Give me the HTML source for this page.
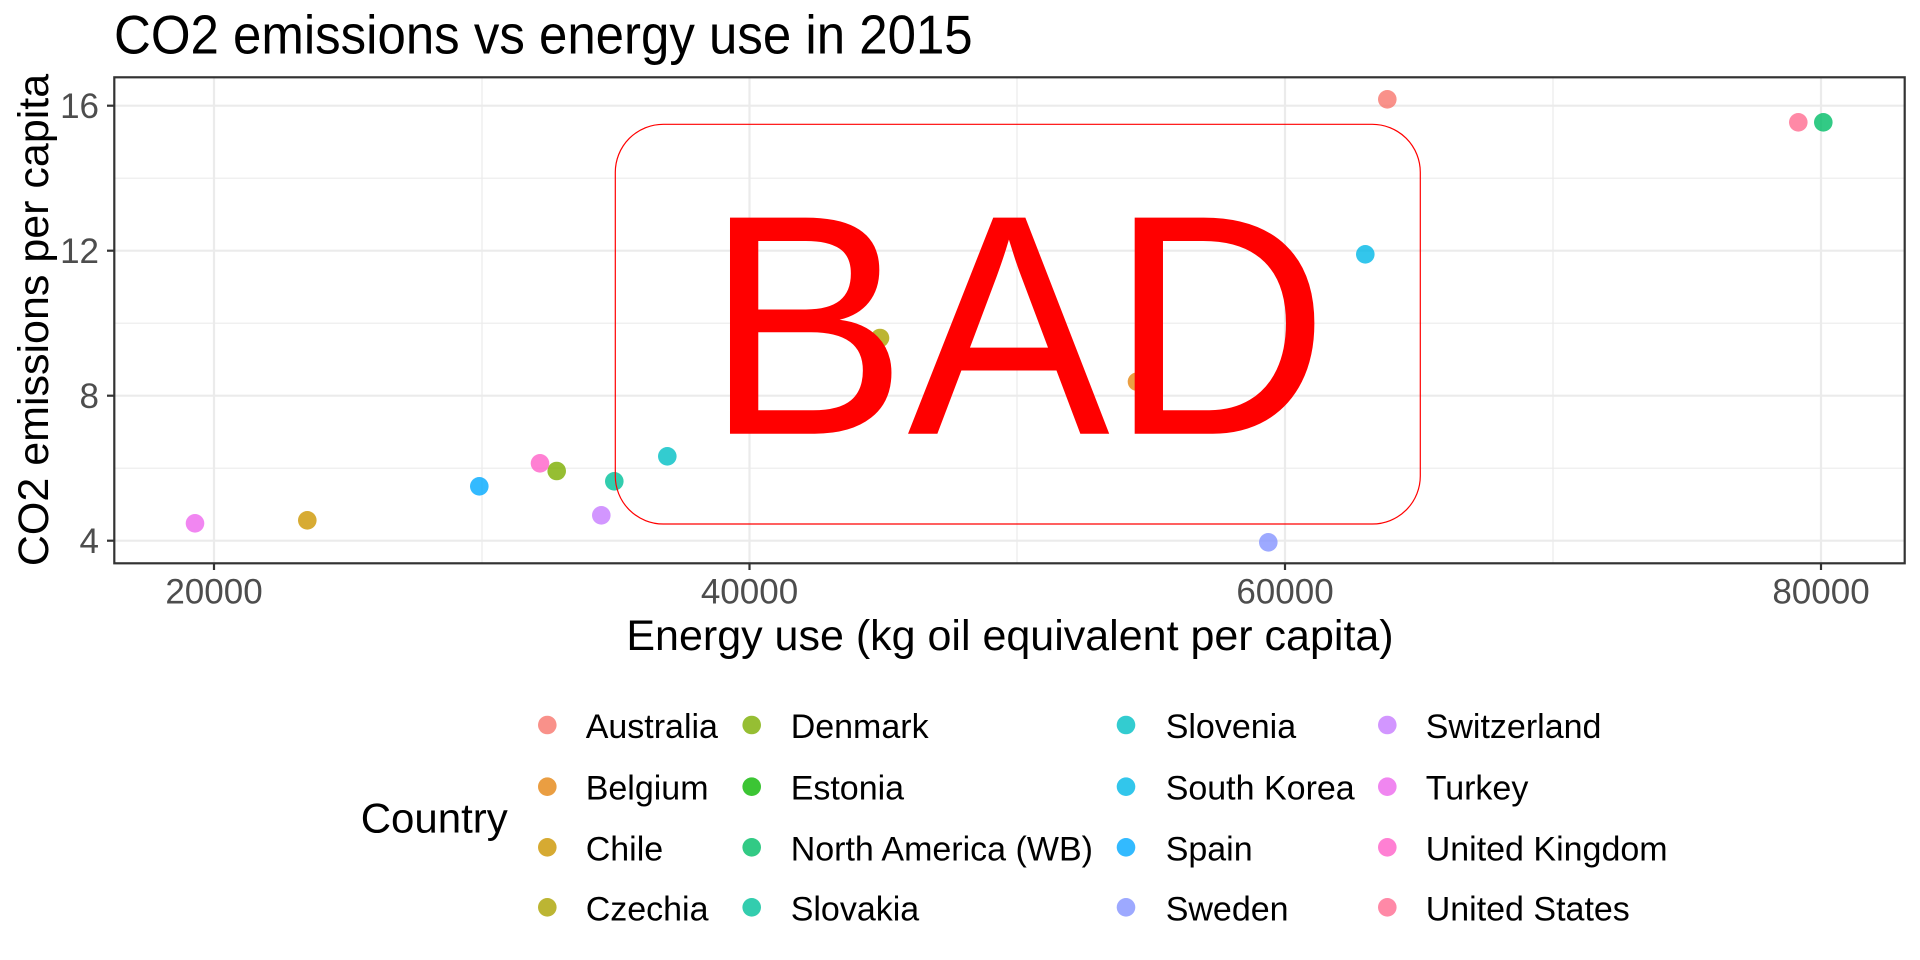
<!DOCTYPE html>
<html><head><meta charset="utf-8"><style>html,body{margin:0;padding:0;background:#fff}svg{display:block}text{font-family:"Liberation Sans",Arial,sans-serif}</style></head>
<body>
<svg width="1920" height="960" viewBox="0 0 1920 960" xmlns="http://www.w3.org/2000/svg">
<rect width="1920" height="960" fill="#fff"/>
<g stroke="#ebebeb" stroke-width="1.2">
<line x1="114" x2="1905" y1="178.2" y2="178.2"/><line x1="114" x2="1905" y1="323.2" y2="323.2"/><line x1="114" x2="1905" y1="468.2" y2="468.2"/>
<line x1="482" x2="482" y1="77" y2="563"/><line x1="1017" x2="1017" y1="77" y2="563"/><line x1="1553" x2="1553" y1="77" y2="563"/>
</g>
<g stroke="#ebebeb" stroke-width="2.2">
<line x1="114" x2="1905" y1="105.7" y2="105.7"/><line x1="114" x2="1905" y1="250.7" y2="250.7"/><line x1="114" x2="1905" y1="395.7" y2="395.7"/><line x1="114" x2="1905" y1="540.7" y2="540.7"/>
<line x1="214" x2="214" y1="77" y2="563"/><line x1="749.5" x2="749.5" y1="77" y2="563"/><line x1="1285" x2="1285" y1="77" y2="563"/><line x1="1821" x2="1821" y1="77" y2="563"/>
</g>
<g opacity="0.8">
<circle cx="1387.3" cy="99.3" r="9.3" fill="#F8766D"/>
<circle cx="1137" cy="381.7" r="9.3" fill="#E68613"/>
<circle cx="307.3" cy="520.3" r="9.3" fill="#CD9600"/>
<circle cx="880" cy="338" r="9.3" fill="#ABA300"/>
<circle cx="556.7" cy="471" r="9.3" fill="#7CAE00"/>
<circle cx="1823.3" cy="122.3" r="9.3" fill="#00BE67"/>
<circle cx="614.3" cy="481.3" r="9.3" fill="#00C19A"/>
<circle cx="667.3" cy="456.3" r="9.3" fill="#00BFC4"/>
<circle cx="1365.3" cy="254.3" r="9.3" fill="#00B8E7"/>
<circle cx="479.3" cy="486.3" r="9.3" fill="#00A9FF"/>
<circle cx="1268.3" cy="542.3" r="9.3" fill="#8494FF"/>
<circle cx="601.3" cy="515.3" r="9.3" fill="#C77CFF"/>
<circle cx="195" cy="523.3" r="9.3" fill="#ED68ED"/>
<circle cx="540" cy="463.3" r="9.3" fill="#FF61C9"/>
<circle cx="1798.3" cy="122.3" r="9.3" fill="#FF6C91"/>
</g>
<rect x="615.3" y="124.3" width="805" height="399.7" rx="48" ry="48" fill="none" stroke="#ff0000" stroke-width="1.2"/>
<text transform="translate(1017,433.7) scale(0.985,1.02)" font-size="308" fill="#ff0000" text-anchor="middle">BAD</text>
<rect x="114.3" y="77.3" width="1790.4" height="486" fill="none" stroke="#333" stroke-width="2.2"/>
<g stroke="#333" stroke-width="2.2">
<line x1="107" x2="114" y1="105.7" y2="105.7"/><line x1="107" x2="114" y1="250.7" y2="250.7"/><line x1="107" x2="114" y1="395.7" y2="395.7"/><line x1="107" x2="114" y1="540.7" y2="540.7"/>
<line x1="214" x2="214" y1="563" y2="570"/><line x1="749.5" x2="749.5" y1="563" y2="570"/><line x1="1285" x2="1285" y1="563" y2="570"/><line x1="1821" x2="1821" y1="563" y2="570"/>
</g>
<g fill="#4d4d4d" font-size="35" text-anchor="end">
<text x="99" y="118.2">16</text>
<text x="99" y="263.2">12</text>
<text x="99" y="408.2">8</text>
<text x="99" y="553.2">4</text>
</g>
<g fill="#4d4d4d" font-size="35" text-anchor="middle">
<text x="214" y="603.3">20000</text>
<text x="749.5" y="603.3">40000</text>
<text x="1285" y="603.3">60000</text>
<text x="1821" y="603.3">80000</text>
</g>
<text x="1010" y="650" font-size="43" text-anchor="middle" fill="#000">Energy use (kg oil equivalent per capita)</text>
<text transform="translate(48,320) rotate(-90)" font-size="43" text-anchor="middle" fill="#000">CO2 emissions per capita</text>
<text transform="translate(114,53.3) scale(1,1.08)" font-size="51" fill="#000">CO2 emissions vs energy use in 2015</text>
<text x="360.7" y="832.3" font-size="42" fill="#000">Country</text>
<g opacity="0.8">
<circle cx="547.3" cy="725" r="9.3" fill="#F8766D"/><circle cx="547.3" cy="786.7" r="9.3" fill="#E68613"/><circle cx="547.3" cy="847.3" r="9.3" fill="#CD9600"/><circle cx="547.3" cy="907.3" r="9.3" fill="#ABA300"/>
<circle cx="751.7" cy="725" r="9.3" fill="#7CAE00"/><circle cx="751.7" cy="786.7" r="9.3" fill="#0CB702"/><circle cx="751.7" cy="847.3" r="9.3" fill="#00BE67"/><circle cx="751.7" cy="907.3" r="9.3" fill="#00C19A"/>
<circle cx="1126" cy="725" r="9.3" fill="#00BFC4"/><circle cx="1126" cy="786.7" r="9.3" fill="#00B8E7"/><circle cx="1126" cy="847.3" r="9.3" fill="#00A9FF"/><circle cx="1126" cy="907.3" r="9.3" fill="#8494FF"/>
<circle cx="1387.3" cy="725" r="9.3" fill="#C77CFF"/><circle cx="1387.3" cy="786.7" r="9.3" fill="#ED68ED"/><circle cx="1387.3" cy="847.3" r="9.3" fill="#FF61C9"/><circle cx="1387.3" cy="907.3" r="9.3" fill="#FF6C91"/>
</g>
<g font-size="34" fill="#000">
<text x="585.7" y="738">Australia</text>
<text x="585.7" y="799.7">Belgium</text>
<text x="585.7" y="860.3">Chile</text>
<text x="585.7" y="920.3">Czechia</text>
<text x="790.7" y="738">Denmark</text>
<text x="790.7" y="799.7">Estonia</text>
<text x="790.7" y="860.3">North America (WB)</text>
<text x="790.7" y="920.3">Slovakia</text>
<text x="1165.7" y="738">Slovenia</text>
<text x="1165.7" y="799.7">South Korea</text>
<text x="1165.7" y="860.3">Spain</text>
<text x="1165.7" y="920.3">Sweden</text>
<text x="1425.7" y="738">Switzerland</text>
<text x="1425.7" y="799.7">Turkey</text>
<text x="1425.7" y="860.3">United Kingdom</text>
<text x="1425.7" y="920.3">United States</text>
</g>
</svg>
</body></html>
